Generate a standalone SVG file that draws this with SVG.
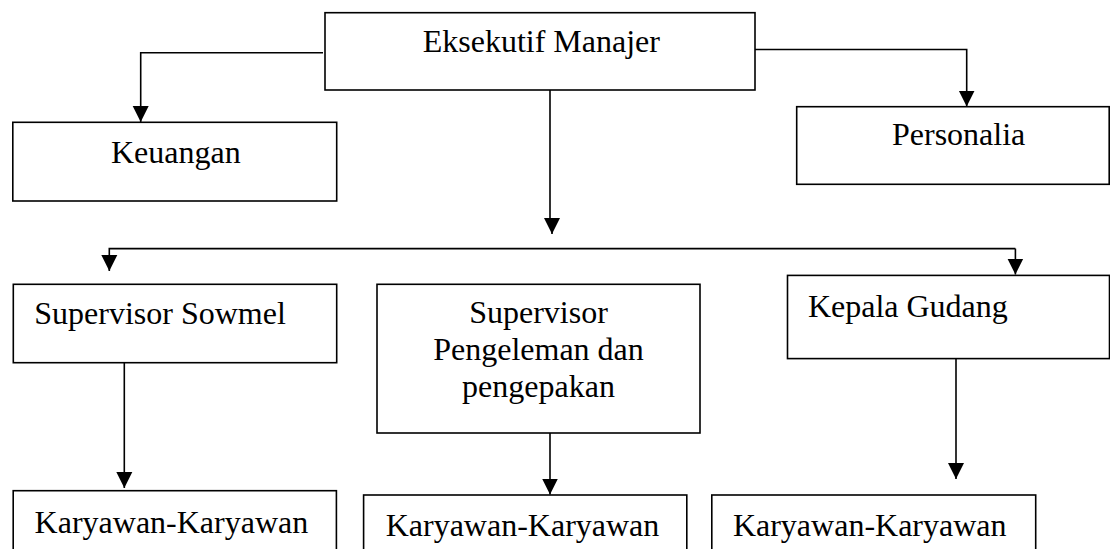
<svg xmlns="http://www.w3.org/2000/svg" width="1110" height="549" viewBox="0 0 1110 549">
<style>
.box{fill:#fff;stroke:#000;stroke-width:1.6}
.t{font-family:"Liberation Serif","Times New Roman",serif;font-size:32px;fill:#000}
.c{fill:none;stroke:#000;stroke-width:1.6}
</style>
<defs>
<marker id="ah" markerUnits="userSpaceOnUse" markerWidth="18" markerHeight="18" viewBox="0 0 18 18" refX="16" refY="9" orient="auto">
<path d="M0,1 L16,9 L0,17 Z" fill="#000"/>
</marker>
</defs>
<rect width="1110" height="549" fill="#fff"/>
<g id="connectors">
<path class="c" d="M323,52.7 H140.7 V122" marker-end="url(#ah)"/>
<path class="c" d="M755,49.5 H966.7 V106.5" marker-end="url(#ah)"/>
<path class="c" d="M550,90 V219 H552 V234" marker-end="url(#ah)"/>
<path class="c" d="M1015.4,248.6 H109.3 V271" marker-end="url(#ah)"/>
<path class="c" d="M1015.4,248.6 V274.5" marker-end="url(#ah)"/>
<path class="c" d="M124.3,362.7 V488" marker-end="url(#ah)"/>
<path class="c" d="M550,433 V494.5" marker-end="url(#ah)"/>
<path class="c" d="M956,358.6 V479" marker-end="url(#ah)"/>
</g>
<g id="eksekutif">
<rect class="box" x="325" y="12.7" width="430" height="77.3"/>
<text class="t" x="422.7" y="52">Eksekutif Manajer</text>
</g>
<g id="keuangan">
<rect class="box" x="12.8" y="122.3" width="323.9" height="78.7"/>
<text class="t" x="111" y="163">Keuangan</text>
</g>
<g id="personalia">
<rect class="box" x="796.7" y="106.7" width="312.5" height="77.6"/>
<text class="t" x="892" y="145">Personalia</text>
</g>
<g id="sowmel">
<rect class="box" x="13.3" y="284.3" width="323.4" height="78.4"/>
<text class="t" x="34.3" y="324">Supervisor Sowmel</text>
</g>
<g id="pengeleman">
<rect class="box" x="377" y="284.3" width="323" height="148.7"/>
<text class="t" text-anchor="middle" x="538.5" y="323">Supervisor</text>
<text class="t" text-anchor="middle" x="538.5" y="360">Pengeleman dan</text>
<text class="t" text-anchor="middle" x="538.5" y="397">pengepakan</text>
</g>
<g id="kepala">
<rect class="box" x="787.5" y="275.4" width="322" height="83.2"/>
<text class="t" x="807.9" y="317">Kepala Gudang</text>
</g>
<g id="karyawan1">
<rect class="box" x="13.2" y="490.7" width="323.2" height="80"/>
<text class="t" x="34.6" y="532.5">Karyawan-Karyawan</text>
</g>
<g id="karyawan2">
<rect class="box" x="363.6" y="495" width="323.2" height="80"/>
<text class="t" x="385.7" y="536">Karyawan-Karyawan</text>
</g>
<g id="karyawan3">
<rect class="box" x="711.8" y="495" width="323.9" height="80"/>
<text class="t" x="732.9" y="536">Karyawan-Karyawan</text>
</g>
</svg>
